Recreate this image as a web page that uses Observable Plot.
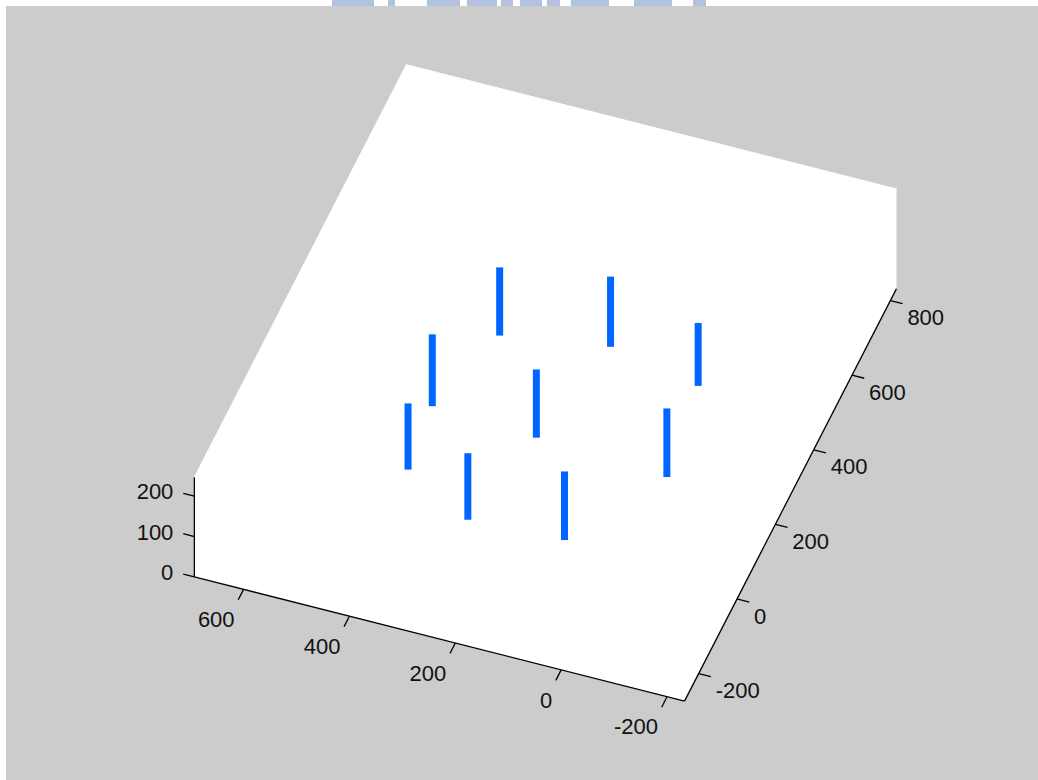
<!DOCTYPE html>
<html>
<head>
<meta charset="utf-8">
<script src="https://cdn.jsdelivr.net/npm/d3@7"></script>
<script src="https://cdn.jsdelivr.net/npm/@observablehq/plot@0.6"></script>
<style>
  html, body { margin: 0; padding: 0; background: #ffffff; overflow: hidden; }
  #frame { position: absolute; left: 6px; top: 6px; width: 1032px; height: 774px; background: #cccccc; overflow: hidden; }
  #frame svg { display: block; }
  .wm { position: absolute; top: 0; height: 6px; background: #b3c1e0; }
</style>
</head>
<body>
<div class="wm" style="left:332px;width:42px"></div>
<div class="wm" style="left:388px;width:7px"></div>
<div class="wm" style="left:427px;width:33px"></div>
<div class="wm" style="left:467px;width:30px"></div>
<div class="wm" style="left:501px;width:12px"></div>
<div class="wm" style="left:520px;width:22px"></div>
<div class="wm" style="left:547px;width:13px"></div>
<div class="wm" style="left:571px;width:38px"></div>
<div class="wm" style="left:634px;width:38px"></div>
<div class="wm" style="left:693px;width:13px"></div>
<div id="frame"></div>
<script>
// ---- data ----
const xTicks = [-200, 0, 200, 400, 600];
const yTicks = [-200, 0, 200, 400, 600, 800];
const zTicks = [0, 100, 200];
const xLim = [-233, 693];
const yLim = [-274, 832];
const zLim = [0, 247];
const barX = [390, 195, 15, 442, 241, 428, -11, 285, 106];
const barY = [482, 522, 482, 274, 262, 109, 247, 26, 36];
const barH = [169, 174, 156, 178, 169, 164, 170, 165, 170];

// ---- 3D view (screen displacement per data unit along each axis) ----
const view = {origin: [607.2, 561.2], ex: [-0.5293, -0.1342], ey: [0.1917, -0.3730], ez: [0, -0.4035]};
function proj(x, y, z) {
  return [
    view.origin[0] + x * view.ex[0] + y * view.ey[0] + z * view.ez[0],
    view.origin[1] + x * view.ex[1] + y * view.ey[1] + z * view.ez[1]
  ];
}
const W = 1032, H = 774;
const [x0, x1] = xLim, [y0, y1] = yLim, [z0, z1] = zLim;

// background planes (floor and two back walls)
const faces = [
  {id: "floor", pts: [[x0, y0, z0], [x1, y0, z0], [x1, y1, z0], [x0, y1, z0]]},
  {id: "xwall", pts: [[x1, y0, z0], [x1, y1, z0], [x1, y1, z1], [x1, y0, z1]]},
  {id: "ywall", pts: [[x0, y1, z0], [x1, y1, z0], [x1, y1, z1], [x0, y1, z1]]}
];
const facePts = faces.flatMap(f => f.pts.map(p => { const [u, v] = proj(...p); return {id: f.id, u, v}; }));

function seg(a, b, extra = {}) {
  const [u1, v1] = proj(...a), [u2, v2] = proj(...b);
  return {u1, v1, u2, v2, ...extra};
}
const axisSegs = [
  seg([x1, y0, z0], [x0, y0, z0]),
  seg([x0, y0, z0], [x0, y1, z0]),
  seg([x1, y0, z0], [x1, y0, z1])
];
const xTickLen = 28, yTickLen = 23, zTickLen = 21;
const tickSegs = [
  ...xTicks.map(t => seg([t, y0, z0], [t, y0 - xTickLen, z0])),
  ...yTicks.map(t => seg([x0, t, z0], [x0 - yTickLen, t, z0])),
  ...zTicks.map(t => seg([x1, y0, t], [x1 + zTickLen, y0, t]))
];
const xLabels = xTicks.map(t => { const [u, v] = proj(t, y0, z0); return {u, v, label: String(t)}; });
const yLabels = yTicks.map(t => { const [u, v] = proj(x0, t, z0); return {u, v, label: String(t)}; });
const zLabels = zTicks.map(t => { const [u, v] = proj(x1, y0, t); return {u, v, label: String(t)}; });
const bars = barX.map((bx, i) => seg([bx, barY[i], 0], [bx, barY[i], barH[i]]));

const font = "'Liberation Sans', Arial, Helvetica, sans-serif";
const plot = Plot.plot({
  width: W, height: H,
  margin: 0,
  x: {domain: [0, W], range: [0, W], axis: null},
  y: {domain: [0, H], range: [0, H], axis: null},
  style: {background: "transparent", fontFamily: font, fontSize: "22px", color: "#111"},
  marks: [
    Plot.line(facePts, {x: "u", y: "v", z: "id", fill: "white", stroke: "white", strokeWidth: 1}),
    Plot.link(axisSegs, {x1: "u1", y1: "v1", x2: "u2", y2: "v2", stroke: "#000", strokeWidth: 1.3}),
    Plot.link(tickSegs, {x1: "u1", y1: "v1", x2: "u2", y2: "v2", stroke: "#000", strokeWidth: 1.3}),
    Plot.text(xLabels, {x: "u", y: "v", text: "label", textAnchor: "end", lineAnchor: "top", dx: -9, dy: 22, fontSize: 22, fill: "#111"}),
    Plot.text(yLabels, {x: "u", y: "v", text: "label", textAnchor: "start", lineAnchor: "top", dx: 17, dy: 9, fontSize: 22, fill: "#111"}),
    Plot.text(zLabels, {x: "u", y: "v", text: "label", textAnchor: "end", lineAnchor: "middle", dx: -21, dy: -4, fontSize: 22, fill: "#111"}),
    Plot.link(bars, {x1: "u1", y1: "v1", x2: "u2", y2: "v2", stroke: "#0066ff", strokeWidth: 7, strokeLinecap: "butt"})
  ]
});
document.getElementById("frame").appendChild(plot);
</script>
</body>
</html>
